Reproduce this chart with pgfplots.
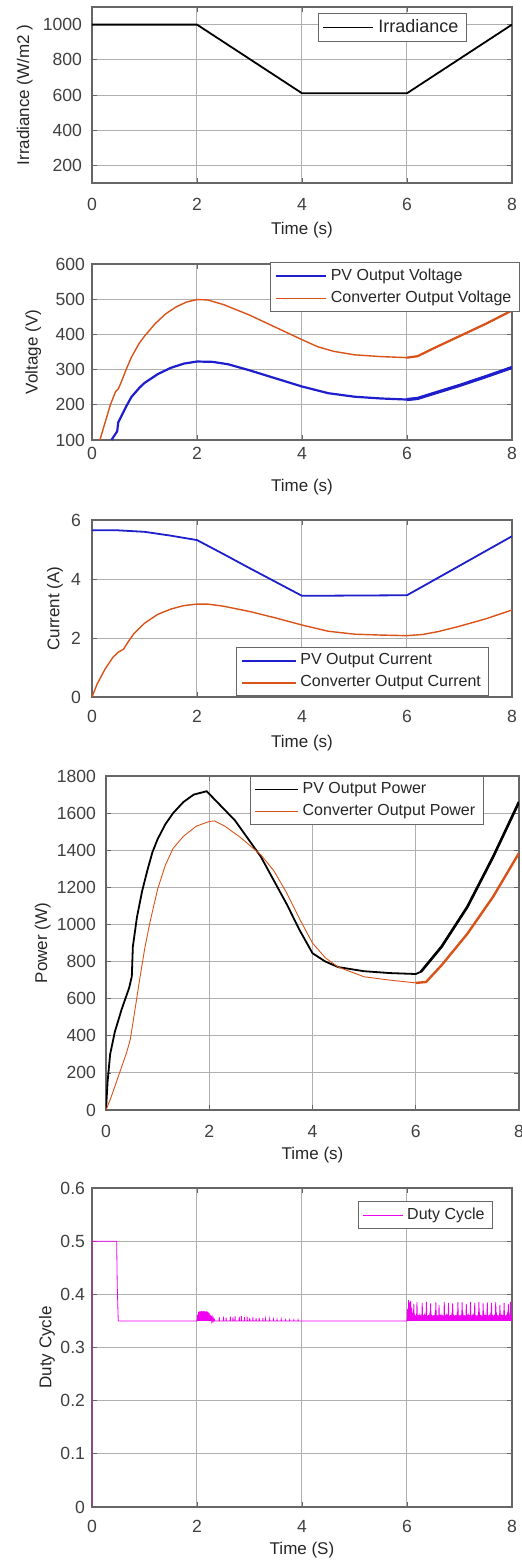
\documentclass[border=0pt]{standalone}
\usepackage{fontspec}
\setmainfont{Liberation Sans}
\usepackage{pgfplots}
\pgfplotsset{compat=1.18}

\definecolor{pvblue}{RGB}{30,30,205}
\definecolor{convorange}{RGB}{217,83,25}
\definecolor{dutymag}{RGB}{240,0,240}
\definecolor{gridgray}{RGB}{175,175,175}

\pgfplotsset{
  matlab/.style={
    scale only axis,
    xmin=0, xmax=8, xtick={0,2,4,6,8},
    axis line style={black!60, line width=0.55pt},
    grid=major, major grid style={gridgray, line width=0.5pt},
    tick align=inside, major tick length=2.5pt,
    tick style={black!60, line width=0.4pt},
    ticklabel style={font=\fontsize{8.8}{10}\selectfont, text=black!75},
    label style={font=\fontsize{8.5}{10}\selectfont, text=black!85},
    /pgf/number format/assume math mode=true,
    /pgf/number format/1000 sep={},
    legend cell align=left,
    legend style={draw=black!60, line width=0.55pt, anchor=north west, fill=white,
      inner xsep=2pt, inner ysep=1pt, row sep=0pt, text=black!85,
      font=\fontsize{8}{9.5}\selectfont},
  },
  leglen/.style={legend image code/.code={\draw[##1] (0pt,0pt) -- (#1,0pt);}},
}

\begin{document}
\begin{tikzpicture}
\useasboundingbox (0,0) rectangle (260.5pt,-780pt);

% ---------------- Irradiance ----------------
\begin{axis}[matlab, at={(46pt,-91.5pt)}, anchor=south west,
  width=210pt, height=88pt,
  ymin=100, ymax=1100, ytick={200,400,...,1000},
  xlabel={Time (s)}, ylabel={Irradiance (W/m2 )},
  xlabel style={at={(axis description cs:0.5,-0.267)}, anchor=center},
  ylabel style={at={(axis description cs:-0.16,0.5)}, anchor=center},
  xticklabel style={yshift=-4pt}, yticklabel style={xshift=-1.5pt},
  legend style={at={(axis description cs:0.538,0.966)}, font=\fontsize{9}{10}\selectfont},
  leglen=25pt]
\addplot[black, line width=0.9pt] coordinates {(0,1000)(2,1000)(4,610)(6,610)(8,1000)};
\legend{Irradiance}
\end{axis}

% ---------------- Voltage ----------------
\begin{axis}[matlab, at={(46pt,-220pt)}, anchor=south west,
  width=210pt, height=88pt,
  ymin=100, ymax=600, ytick={100,200,...,600},
  xlabel={Time (s)}, ylabel={Voltage (V)},
  xlabel style={at={(axis description cs:0.5,-0.267)}, anchor=center},
  ylabel style={at={(axis description cs:-0.14,0.5)}, anchor=center},
  legend style={at={(axis description cs:0.424,1.011)}},
  leglen=25pt]
\addplot[pvblue, line width=1.1pt] coordinates {
  (0.37,100)(0.45,118)(0.48,125)(0.5,150)(0.55,165)(0.65,195)(0.75,222)
  (0.9,248)(1.0,262)(1.25,287)(1.5,305)(1.75,317)(2.0,323)(2.3,322)
  (2.6,315)(3.0,298)(3.5,275)(4.0,252)(4.5,233)(5.0,223)(5.5,218)
  (6.0,215)(6.2,218)(6.5,232)(7.0,255)(7.5,280)(8.0,306)};
\addplot[convorange, line width=0.7pt] coordinates {
  (0.15,100)(0.25,150)(0.35,200)(0.45,238)(0.5,245)(0.55,262)(0.65,300)
  (0.75,335)(0.9,375)(1.0,395)(1.2,430)(1.4,458)(1.6,478)(1.8,492)
  (2.0,499)(2.2,498)(2.5,485)(3.0,455)(3.5,420)(4.0,385)(4.3,365)
  (4.6,352)(5.0,342)(5.5,337)(6.0,334)(6.2,338)(6.5,360)(7.0,395)
  (7.5,430)(8.0,468)};
\addplot[pvblue, line width=1.6pt, forget plot] coordinates {
  (6.0,215)(6.2,218)(6.5,232)(7.0,255)(7.5,280)(8.0,306)};
\addplot[convorange, line width=1.1pt, forget plot] coordinates {
  (6.0,334)(6.2,338)(6.5,360)(7.0,395)(7.5,430)(8.0,468)};
\legend{PV Output Voltage, Converter Output Voltage}
\end{axis}

% ---------------- Current ----------------
\begin{axis}[matlab, at={(46pt,-348.5pt)}, anchor=south west,
  width=210pt, height=88.5pt,
  ymin=0, ymax=6, ytick={0,2,4,6},
  xlabel={Time (s)}, ylabel={Current (A)},
  xlabel style={at={(axis description cs:0.5,-0.26)}, anchor=center},
  ylabel style={at={(axis description cs:-0.088,0.5)}, anchor=center},
  xticklabel style={yshift=-3pt}, yticklabel style={xshift=-2pt},
  legend style={at={(axis description cs:0.343,0.282)}},
  leglen=27pt]
\addplot[pvblue, line width=0.9pt] coordinates {
  (0,5.65)(0.5,5.65)(1.0,5.6)(1.5,5.47)(2.0,5.32)(2.5,4.85)(3.0,4.37)
  (3.5,3.9)(4.0,3.43)(5.0,3.44)(6.0,3.45)(6.5,3.95)(7.0,4.45)(7.5,4.95)
  (8.0,5.45)};
\addplot[convorange, line width=0.7pt] coordinates {
  (0,0)(0.1,0.45)(0.25,0.95)(0.4,1.35)(0.5,1.52)(0.6,1.62)(0.7,1.9)
  (0.8,2.15)(1.0,2.5)(1.25,2.8)(1.5,2.98)(1.75,3.1)(2.0,3.15)(2.2,3.15)
  (2.5,3.08)(3.0,2.9)(3.5,2.68)(4.0,2.44)(4.5,2.23)(5.0,2.13)(5.5,2.1)
  (6.0,2.08)(6.3,2.12)(6.6,2.22)(7.0,2.4)(7.5,2.65)(8.0,2.95)};
\legend{PV Output Current, Converter Output Current}
\end{axis}

% ---------------- Power ----------------
\begin{axis}[matlab, at={(53pt,-555pt)}, anchor=south west,
  width=206.5pt, height=167pt,
  ymin=0, ymax=1800, ytick={0,200,...,1800},
  xlabel={Time (s)}, ylabel={Power (W)},
  xlabel style={at={(axis description cs:0.5,-0.135)}, anchor=center},
  ylabel style={at={(axis description cs:-0.153,0.5)}, anchor=center},
  xticklabel style={yshift=-4pt}, yticklabel style={xshift=-1.5pt},
  legend style={at={(axis description cs:0.349,1.0)}},
  legend image post style={line width=0.5pt},
  leglen=21.5pt]
\addplot[black, line width=0.9pt] coordinates {
  (0,0)(0.03,150)(0.08,300)(0.17,420)(0.3,540)(0.45,660)(0.5,720)
  (0.52,880)(0.6,1040)(0.7,1180)(0.8,1290)(0.9,1390)(1.0,1460)
  (1.15,1540)(1.3,1600)(1.5,1660)(1.7,1700)(1.95,1718)(2.5,1560)
  (3.0,1365)(3.5,1110)(3.75,970)(4.0,845)(4.25,800)(4.5,770)(5.0,748)
  (5.5,738)(6.0,733)(6.1,745)(6.5,880)(7.0,1095)(7.5,1365)(8.0,1660)};
\addplot[convorange, line width=0.45pt] coordinates {
  (0,0)(0.1,70)(0.2,150)(0.3,230)(0.4,310)(0.47,380)(0.55,520)(0.65,700)
  (0.75,870)(0.85,1010)(1.0,1190)(1.15,1320)(1.3,1410)(1.5,1475)
  (1.75,1530)(2.0,1555)(2.1,1558)(2.3,1530)(2.6,1470)(3.0,1375)
  (3.25,1290)(3.5,1170)(3.75,1030)(4.0,900)(4.25,820)(4.5,770)(5.0,718)
  (5.5,700)(6.0,685)};
\addplot[convorange, line width=1.2pt, forget plot] coordinates {
  (6.0,685)(6.2,690)(6.5,780)(7.0,950)(7.5,1150)(8.0,1385)};
\addplot[black, line width=1.3pt, forget plot] coordinates {
  (6.1,745)(6.5,880)(7.0,1095)(7.5,1365)(8.0,1660)};
\legend{PV Output Power, Converter Output Power}
\end{axis}

% ---------------- Duty cycle ----------------
\begin{axis}[matlab, at={(46pt,-753.5pt)}, anchor=south west,
  width=210pt, height=159.5pt,
  ymin=0, ymax=0.6, ytick={0,0.1,...,0.6},
  yticklabel style={/pgf/number format/.cd, fixed, precision=1},
  xlabel={Time (S)}, ylabel={Duty Cycle},
  xlabel style={at={(axis description cs:0.5,-0.135)}, anchor=center},
  ylabel style={at={(axis description cs:-0.107,0.5)}, anchor=center},
  xticklabel style={yshift=-3pt},
  legend style={at={(axis description cs:0.633,0.959)}},
  leglen=20pt]
\addplot[dutymag, line width=0.4pt] coordinates {
  (0,0)(0,0.5)(0.47,0.5)(0.48,0.42)(0.5,0.35)(2.0,0.35)
  (2.01,.362)(2.02,.350)(2.03,.367)(2.04,.350)(2.05,.368)(2.06,.350)(2.07,.368)
  (2.08,.350)(2.09,.369)(2.10,.350)(2.11,.368)(2.12,.350)(2.13,.369)(2.14,.350)
  (2.15,.368)(2.16,.350)(2.17,.368)(2.18,.350)(2.19,.368)(2.20,.350)(2.21,.367)
  (2.22,.350)(2.23,.365)(2.24,.350)(2.25,.362)(2.26,.350)(2.27,.360)(2.28,.350)
  (2.29,.357)(2.30,.350)(2.31,.355)(2.32,.350)(2.33,.353)(2.34,.350)
  (2.42,.350)(2.425,.357)(2.43,.350)(2.50,.350)(2.505,.358)(2.51,.350)
  (2.55,.350)(2.555,.356)(2.56,.350)(2.63,.350)(2.635,.358)(2.64,.350)
  (2.68,.350)(2.685,.357)(2.69,.350)(2.72,.350)(2.725,.359)(2.73,.350)
  (2.80,.350)(2.805,.358)(2.81,.350)(2.84,.350)(2.845,.359)(2.85,.350)
  (2.90,.350)(2.905,.357)(2.91,.350)(2.95,.350)(2.955,.358)(2.96,.350)
  (3.00,.350)(3.005,.356)(3.01,.350)(3.06,.350)(3.065,.357)(3.07,.350)
  (3.12,.350)(3.125,.355)(3.13,.350)(3.18,.350)(3.185,.356)(3.19,.350)
  (3.25,.350)(3.255,.355)(3.26,.350)(3.30,.350)(3.305,.354)(3.31,.350)
  (3.38,.350)(3.385,.354)(3.39,.350)(3.45,.350)(3.455,.353)(3.46,.350)
  (3.52,.350)(3.525,.353)(3.53,.350)(3.60,.350)(3.605,.353)(3.61,.350)
  (3.68,.350)(3.685,.352)(3.69,.350)(3.76,.350)(3.765,.352)(3.77,.350)
  (3.84,.350)(3.845,.352)(3.85,.350)(3.92,.350)(3.925,.352)(3.93,.350)
  (6.00,.350)
  (6.01,.372)(6.02,.35)(6.03,.389)(6.04,.35)(6.05,.385)(6.06,.35)(6.07,.388)(6.08,.35)(6.09,.375)(6.10,.35)
  (6.11,.365)(6.12,.35)(6.13,.382)(6.14,.35)(6.15,.362)(6.16,.35)(6.17,.360)(6.18,.35)(6.19,.386)(6.20,.35)
  (6.21,.361)(6.22,.35)(6.23,.359)(6.24,.35)(6.25,.362)(6.26,.35)(6.27,.360)(6.28,.35)(6.29,.384)(6.30,.35)
  (6.31,.361)(6.32,.35)(6.33,.359)(6.34,.35)(6.35,.362)(6.36,.35)(6.37,.386)(6.38,.35)(6.39,.360)(6.40,.35)
  (6.41,.361)(6.42,.35)(6.43,.359)(6.44,.35)(6.45,.383)(6.46,.35)(6.47,.362)(6.48,.35)(6.49,.360)(6.50,.35)
  (6.51,.361)(6.52,.35)(6.53,.359)(6.54,.35)(6.55,.385)(6.56,.35)(6.57,.361)(6.58,.35)(6.59,.360)(6.60,.35)
  (6.61,.380)(6.62,.35)(6.63,.362)(6.64,.35)(6.65,.359)(6.66,.35)(6.67,.361)(6.68,.35)(6.69,.360)(6.70,.35)
  (6.71,.386)(6.72,.35)(6.73,.361)(6.74,.35)(6.75,.359)(6.76,.35)(6.77,.362)(6.78,.35)(6.79,.384)(6.80,.35)
  (6.81,.360)(6.82,.35)(6.83,.361)(6.84,.35)(6.85,.359)(6.86,.35)(6.87,.383)(6.88,.35)(6.89,.362)(6.90,.35)
  (6.91,.360)(6.92,.35)(6.93,.361)(6.94,.35)(6.95,.359)(6.96,.35)(6.97,.386)(6.98,.35)(6.99,.361)(7.00,.35)
  (7.01,.360)(7.02,.35)(7.03,.362)(7.04,.35)(7.05,.385)(7.06,.35)(7.07,.359)(7.08,.35)(7.09,.361)(7.10,.35)
  (7.11,.360)(7.12,.35)(7.13,.382)(7.14,.35)(7.15,.362)(7.16,.35)(7.17,.359)(7.18,.35)(7.19,.361)(7.20,.35)
  (7.21,.386)(7.22,.35)(7.23,.360)(7.24,.35)(7.25,.362)(7.26,.35)(7.27,.359)(7.28,.35)(7.29,.384)(7.30,.35)
  (7.31,.361)(7.32,.35)(7.33,.360)(7.34,.35)(7.35,.362)(7.36,.35)(7.37,.386)(7.38,.35)(7.39,.359)(7.40,.35)
  (7.41,.361)(7.42,.35)(7.43,.360)(7.44,.35)(7.45,.383)(7.46,.35)(7.47,.362)(7.48,.35)(7.49,.359)(7.50,.35)
  (7.51,.361)(7.52,.35)(7.53,.385)(7.54,.35)(7.55,.360)(7.56,.35)(7.57,.362)(7.58,.35)(7.59,.359)(7.60,.35)
  (7.61,.384)(7.62,.35)(7.63,.361)(7.64,.35)(7.65,.360)(7.66,.35)(7.67,.362)(7.68,.35)(7.69,.386)(7.70,.35)
  (7.71,.359)(7.72,.35)(7.73,.361)(7.74,.35)(7.75,.360)(7.76,.35)(7.77,.380)(7.78,.35)(7.79,.362)(7.80,.35)
  (7.81,.359)(7.82,.35)(7.83,.361)(7.84,.35)(7.85,.384)(7.86,.35)(7.87,.360)(7.88,.35)(7.89,.362)(7.90,.35)
  (7.91,.359)(7.92,.35)(7.93,.382)(7.94,.35)(7.95,.361)(7.96,.35)(7.97,.386)(7.98,.35)(7.99,.360)(8.00,.35)};
\legend{Duty Cycle}
\end{axis}
\end{tikzpicture}
\end{document}
